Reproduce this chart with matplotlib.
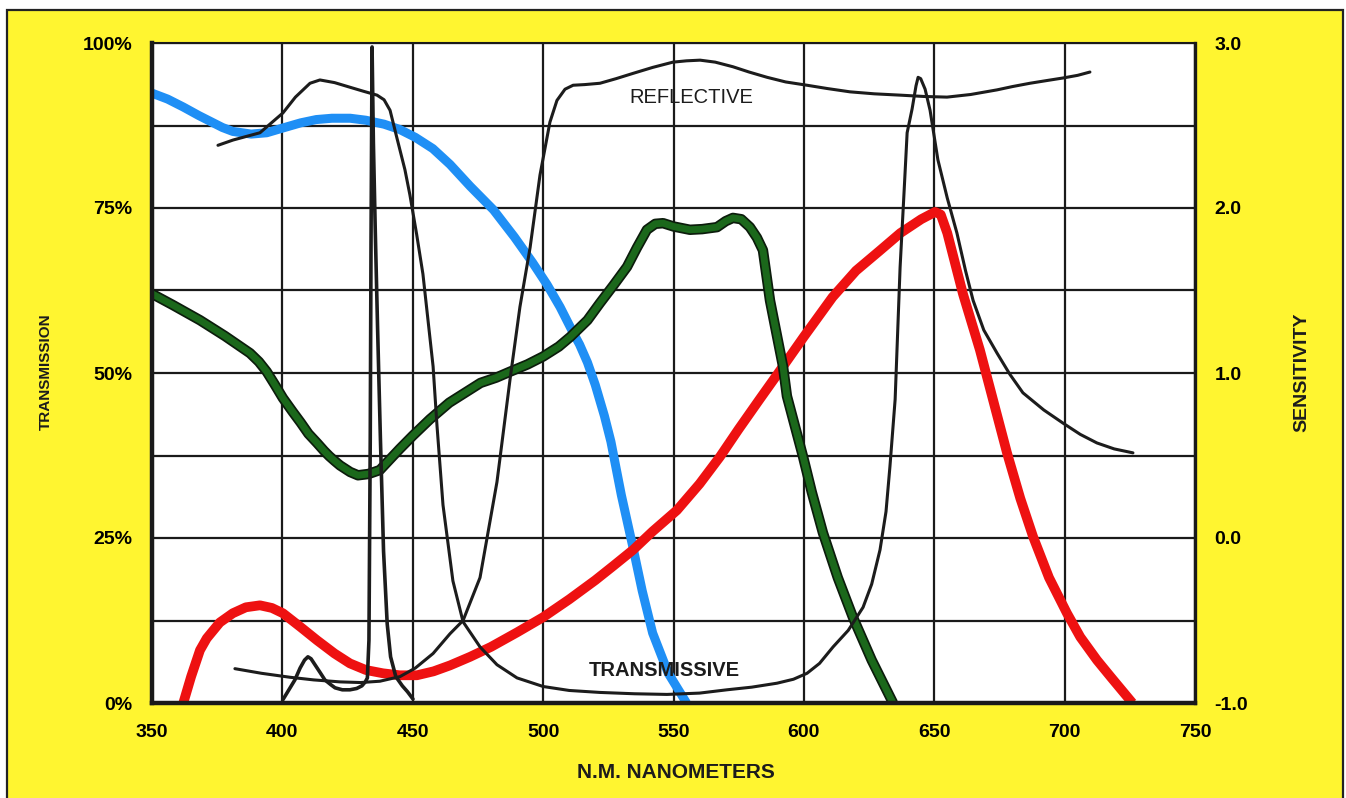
import matplotlib
matplotlib.use("Agg")
import matplotlib.pyplot as plt
from matplotlib.patches import Rectangle
import matplotlib.patheffects as pe

# ---------------- data (wavelength nm, value in % of left axis) ----------------
blue_nm = [350, 356, 362, 368, 373, 377, 381, 388, 394, 400, 407, 413, 419, 426, 432, 439, 445,
           451, 457.7, 464.3, 472, 481, 489, 496, 501.5, 506.5, 511, 514, 517, 520, 523.5, 526,
           530, 534.5, 538, 542, 548, 555]
blue_val = [92.4, 91.5, 90.3, 89.0, 88.0, 87.2, 86.6, 86.2, 86.4, 87.1, 87.9, 88.4, 88.6, 88.6,
            88.3, 87.7, 86.9, 85.7, 84.0, 81.6, 78.3, 74.7, 70.6, 66.7, 63.4, 60.0, 56.5, 54.3,
            51.6, 48.2, 43.5, 39.6, 31.5, 23.5, 17.0, 10.6, 4.5, 0.0]

green_nm = [350, 358, 368.4, 378, 387.6, 391, 394, 397, 400.2, 404, 407, 410, 413.3, 416, 418,
            420, 422.1, 426, 429, 433, 437.4, 440, 445, 450, 456.6, 464, 470, 476, 482, 487.3,
            494, 500, 506, 510.5, 517, 521.8, 527, 532.2, 536, 539.8, 543, 546, 550, 556.3, 561,
            566.7, 570, 572.8, 576, 579.3, 582, 584.3, 587, 592, 593.5, 599.7, 603, 607.3, 613,
            618.8, 626, 634.2]
green_val = [62.0, 60.3, 58.0, 55.6, 53.0, 51.7, 50.2, 48.3, 46.2, 44.1, 42.5, 40.8, 39.4, 38.2,
             37.4, 36.7, 36.0, 35.0, 34.5, 34.7, 35.3, 36.4, 38.5, 40.5, 43.0, 45.5, 47.0, 48.5,
             49.3, 50.2, 51.3, 52.5, 54.0, 55.5, 58.0, 60.6, 63.3, 66.1, 69.0, 71.7, 72.6, 72.7,
             72.2, 71.7, 71.8, 72.1, 73.0, 73.5, 73.3, 72.1, 70.5, 68.6, 61.0, 51.0, 46.5, 37.3,
             32.0, 25.8, 19.0, 13.0, 6.5, 0.0]

red_nm = [362, 365, 368.4, 371, 376, 381, 386, 391.4, 396, 400.2, 407, 413.3, 420, 425.9, 432,
          438.6, 445, 451.6, 458, 464.3, 472, 480, 490, 500, 510, 520, 527, 534.5, 542, 551.3,
          560, 567.8, 575, 583, 592, 600, 611, 620, 629, 637, 645, 650.3, 652.5, 655, 661,
          667.5, 672.5, 677.9, 683, 687.9, 694, 700.9, 706, 712.4, 718, 723.9, 726]
red_val = [0.0, 4.0, 8.0, 9.8, 12.2, 13.6, 14.5, 14.8, 14.4, 13.6, 11.5, 9.5, 7.5, 6.0, 5.0,
           4.5, 4.2, 4.2, 4.8, 5.7, 7.0, 8.5, 10.7, 13.0, 15.7, 18.6, 20.8, 23.2, 26.0, 29.2,
           33.2, 37.3, 41.5, 46.0, 51.0, 55.5, 61.5, 65.5, 68.5, 71.2, 73.3, 74.4, 74.0, 71.2, 62.0,
           53.5, 46.0, 37.9, 31.0, 25.2, 19.0, 13.6, 10.0, 6.5, 3.8, 1.0, 0.0]

# black filter curve: transmissive
trans_nm = [375.3, 381.1, 391.4, 400.2, 405, 410.6, 414.4, 420, 425.9, 431, 436.3, 439, 441.3, 444,
            447, 448.9, 451.5, 453.9, 457.8, 459.3, 461.6, 465.4, 469.3, 475.8, 482.3, 490, 500,
            510, 521.8, 535, 547.5, 560, 570.5, 580, 589.7, 596, 601.2, 606, 611.2, 617, 622.7,
            626, 629.2, 631.5, 633, 635, 636.9, 638.5, 639.6, 641.5, 643, 643.8, 644.8, 646.5,
            648.4, 651.4, 655, 658.7, 662, 664.9, 669, 674.1, 679, 684, 692, 699.4, 706, 712.4,
            719, 726.2]
trans_val = [84.5, 85.3, 86.4, 89.4, 91.8, 93.9, 94.4, 94.0, 93.3, 92.7, 92.1, 91.4, 89.8, 85.5,
             80.8, 77.0, 71.0, 65.0, 51.0, 42.0, 30.0, 18.5, 12.3, 8.5, 5.8, 3.8, 2.5,
             1.9, 1.6, 1.4, 1.3, 1.5, 2.0, 2.4, 3.0, 3.6, 4.5, 6.0, 8.5, 11.0, 14.5,
             18.0, 23.2, 29.0, 35.8, 46.0, 66.0, 78.0, 86.4, 90.0, 93.5, 94.8, 94.6, 93.0,
             89.8, 82.3, 76.5, 71.2, 65.5, 61.0, 56.5, 53.0, 49.8, 47.0, 44.4, 42.4, 40.7, 39.4,
             38.5, 37.9]

# black filter curve: reflective
refl_nm = [381.8, 392, 402.9, 412, 422.1, 430, 437.4, 445.1, 451, 457.8, 464.3, 469.3, 475.8, 482.3,
           487.3, 491.1, 495, 498.8, 502.6, 505.3, 508.4, 511.5, 516, 521.8, 528, 534.5, 542,
           549.8, 555, 560.2, 566, 572.8, 579, 585.9, 593, 601.2, 609, 617.7, 627, 636.9, 646,
           654.9, 664, 674.1, 680, 686.7, 693, 699.4, 705, 709.7]
refl_val = [5.2, 4.5, 3.9, 3.5, 3.2, 3.1, 3.3, 4.0, 5.3, 7.5, 10.5, 12.5, 19.0, 33.5,
            49.0, 60.0, 69.0, 80.0, 88.0, 91.3, 93.0, 93.6, 93.7, 93.9, 94.6, 95.4, 96.3,
            97.1, 97.3, 97.4, 97.1, 96.4, 95.6, 94.8, 94.1, 93.6, 93.1, 92.6, 92.3, 92.1, 91.9,
            91.8, 92.2, 92.9, 93.4, 93.9, 94.3, 94.7, 95.1, 95.6]

# black lamp spectrum (mercury lines)
lamp_nm = [400.2, 402.5, 404.8, 406.8, 408.5, 409.8, 411, 412.5, 414.5, 416.3, 418.5, 420.2, 423,
           425.9, 428.5, 430.5, 431.8, 432.6, 433.2, 433.7, 434.0, 434.4, 434.9, 435.6, 436.5,
           437.6, 438.8, 440.2, 441.5, 443.5, 446, 448, 450.1]
lamp_val = [0.5, 2.0, 3.5, 5.3, 6.5, 7.0, 6.7, 5.8, 4.6, 3.5, 2.8, 2.3, 2.0,
            2.0, 2.2, 2.6, 3.2, 3.8, 9.5, 40.0, 70.0, 99.4, 85.0, 72.0, 57.0,
            40.0, 23.0, 12.0, 7.0, 4.0, 2.6, 1.7, 0.6]

x_ticks = [350, 400, 450, 500, 550, 600, 650, 700, 750]
y_grid = [0, 12.5, 25, 37.5, 50, 62.5, 75, 87.5, 100]
y_labels = ["0%", "", "25%", "", "50%", "", "75%", "", "100%"]
sens_ticks = [-1.0, 0.0, 1.0, 2.0, 3.0]
sens_labels = ["-1.0", "0.0", "1.0", "2.0", "3.0"]

# ---------------- styling ----------------
YELLOW = "#FFF530"
FONT = ["Liberation Sans", "DejaVu Sans"]
plt.rcParams["font.family"] = FONT

W, H = 1346, 798
fig = plt.figure(figsize=(W / 100, H / 100), dpi=100, facecolor="white")
bg = Rectangle((7 / W, -0.02), (1343 - 7) / W, 1.02 - 10 / H,
               transform=fig.transFigure, facecolor=YELLOW,
               edgecolor="#222222", lw=1.6, zorder=-10)
fig.add_artist(bg)

ax = fig.add_axes([152 / W, (H - 703) / H, (1195 - 152) / W, (703 - 43) / H])
ax.set_facecolor("white")
ax.set_xlim(350, 750)
ax.set_ylim(0, 100)
ax.set_xticks(x_ticks)
ax.set_xticklabels([str(v) for v in x_ticks])
ax.set_yticks(y_grid)
ax.set_yticklabels(y_labels)
ax.grid(True, color="#1a1a1a", lw=1.6, zorder=1)
ax.set_axisbelow(True)
ax.tick_params(axis="both", length=0, labelsize=14)
ax.tick_params(axis="x", pad=15)
ax.tick_params(axis="y", pad=14)
for lab in ax.get_xticklabels() + ax.get_yticklabels():
    lab.set_fontweight("bold")
for side, lw in [("left", 3.2), ("bottom", 3.2), ("right", 2.4), ("top", 1.5)]:
    ax.spines[side].set_linewidth(lw)
    ax.spines[side].set_color("#1a1a1a")
    ax.spines[side].set_zorder(10)

# colored sensitivity curves
ax.plot(blue_nm, blue_val, color="#1f8ff5", lw=6.5, solid_capstyle="butt",
        solid_joinstyle="round", zorder=3)
ax.plot(red_nm, red_val, color="#ee1111", lw=7.0, solid_capstyle="butt",
        solid_joinstyle="round", zorder=3)
ax.plot(green_nm, green_val, color="#1b681b", lw=5.0, solid_capstyle="butt",
        solid_joinstyle="round", zorder=4,
        path_effects=[pe.Stroke(linewidth=7.5, foreground="#0c1c0c"), pe.Normal()])

# black curves
kw = dict(color="#1c1c1c", solid_joinstyle="round", solid_capstyle="round", zorder=6)
ax.plot(trans_nm, trans_val, lw=2.2, **kw)
ax.plot(refl_nm, refl_val, lw=2.2, **kw)
ax.plot(lamp_nm, lamp_val, lw=2.6, **kw)

ax.text(557, 91.7, "REFLECTIVE", ha="center", va="center", fontsize=14.5,
        color="#1c1c1c", zorder=7)
ax.text(546.5, 5.0, "TRANSMISSIVE", ha="center", va="center", fontsize=14.5,
        fontweight="semibold", color="#1c1c1c", zorder=7)

# right axis
ax2 = ax.twinx()
ax2.set_ylim(-1, 3)
ax2.set_yticks(sens_ticks)
ax2.set_yticklabels(sens_labels)
ax2.tick_params(axis="y", length=0, labelsize=14, pad=14)
for lab in ax2.get_yticklabels():
    lab.set_fontweight("bold")
for s in ax2.spines.values():
    s.set_visible(False)

fig.text(46 / W, 1 - 372 / H, "TRANSMISSION", rotation=90, ha="center", va="center",
         fontsize=11, fontweight="bold", color="#1c1c1c")
fig.text(1302 / W, 1 - 372 / H, "SENSITIVITY", rotation=90, ha="center", va="center",
         fontsize=14, fontweight="bold", color="#1c1c1c")
fig.text(676 / W, 1 - 772 / H, "N.M. NANOMETERS", ha="center", va="center",
         fontsize=15, fontweight="bold", color="#1c1c1c")

fig.savefig("out.png", dpi=100, facecolor=fig.get_facecolor())
